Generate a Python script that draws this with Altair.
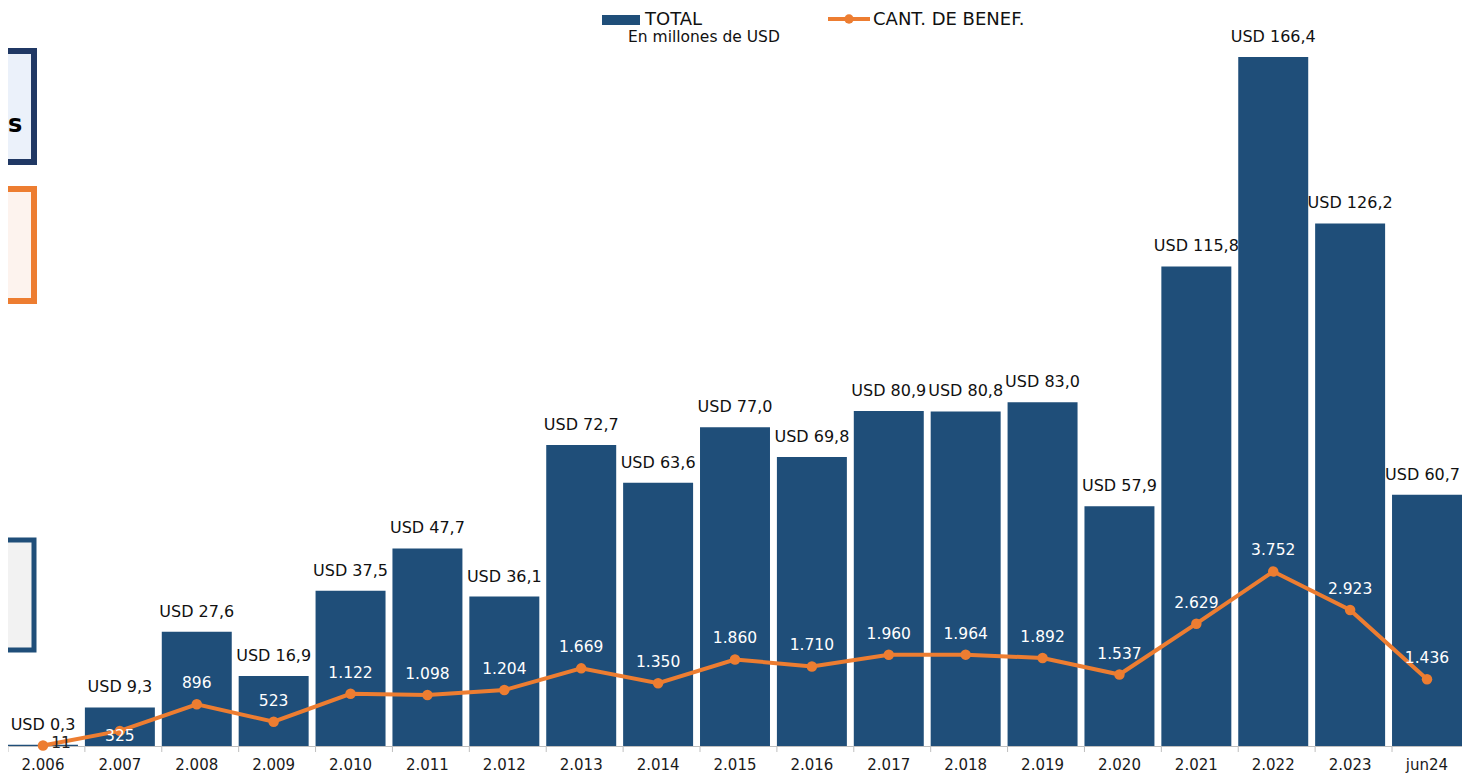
import altair as alt
import pandas as pd

years = ["2.006", "2.007", "2.008", "2.009", "2.010", "2.011", "2.012", "2.013", "2.014",
         "2.015", "2.016", "2.017", "2.018", "2.019", "2.020", "2.021", "2.022", "2.023", "jun24"]
total = [0.3, 9.3, 27.6, 16.9, 37.5, 47.7, 36.1, 72.7, 63.6, 77.0, 69.8, 80.9, 80.8, 83.0,
         57.9, 115.8, 166.4, 126.2, 60.7]
benef = [11, 325, 896, 523, 1122, 1098, 1204, 1669, 1350, 1860, 1710, 1960, 1964, 1892,
         1537, 2629, 3752, 2923, 1436]

df = pd.DataFrame({
    "cat": years,
    "total": total,
    "benef": benef,
    "tlabel": ["USD " + f"{v:.1f}".replace(".", ",") for v in total],
    "blabel": [f"{v:,}".replace(",", ".") for v in benef],
})

FONT = "DejaVu Sans"
BLUE = "#1F4E79"
ORANGE = "#ED7D31"
H = 735

xenc = alt.X("cat:N", sort=years, title=None,
             scale=alt.Scale(paddingInner=0.09, paddingOuter=0.0),
             axis=alt.Axis(labelAngle=0, ticks=False, domainColor="#BFBFBF",
                           labelFont=FONT, labelFontSize=15, labelColor="#1a1a1a",
                           labelPadding=11))

ybar = alt.Y("total:Q", scale=alt.Scale(domain=[0, 177.5]), axis=None)
yline = alt.Y("benef:Q", scale=alt.Scale(domain=[0, 15800]), axis=None)

base = alt.Chart(df)

bars = base.mark_bar(color=BLUE).encode(x=xenc, y=ybar)
bar_text = base.transform_filter("datum.cat != 'jun24'").mark_text(
    font=FONT, fontSize=16, color="#111111", baseline="middle", dy=-20).encode(
    x=xenc, y=ybar, text="tlabel:N")
bar_text_last = base.transform_filter("datum.cat == 'jun24'").mark_text(
    font=FONT, fontSize=16, color="#111111", baseline="middle", align="right", dx=33, dy=-20).encode(
    x=xenc, y=ybar, text="tlabel:N")

ticks = base.mark_rule(color="#BFBFBF", strokeWidth=1).encode(
    x=alt.X("cat:N", sort=years, bandPosition=0),
    y=alt.value(H), y2=alt.value(H + 6))

line = base.mark_line(color=ORANGE, strokeWidth=4).encode(x=xenc, y=yline)
pts = base.mark_point(color=ORANGE, filled=True, size=110, opacity=1).encode(x=xenc, y=yline)
btext_main = base.transform_filter("datum.benef >= 500").mark_text(
    font=FONT, fontSize=15.5, color="white", baseline="middle", dy=-21).encode(
    x=xenc, y=yline, text="blabel:N")
btext_325 = base.transform_filter("datum.benef >= 100 && datum.benef < 500").mark_text(
    font=FONT, fontSize=15.5, color="white", baseline="middle", dy=5).encode(
    x=xenc, y=yline, text="blabel:N")
btext_11 = base.transform_filter("datum.benef < 100").mark_text(
    font=FONT, fontSize=15.5, color="#222222", baseline="middle", dx=18, dy=-2).encode(
    x=xenc, y=yline, text="blabel:N")

one = pd.DataFrame({"a": [0]})
dec = alt.Chart(one)

box1 = dec.mark_rect(fill="#EBF1FA", stroke="#203864", strokeWidth=6).encode(
    x=alt.value(-30), x2=alt.value(26), y=alt.value(40), y2=alt.value(151))
box1_t = dec.mark_text(text="s", font=FONT, fontSize=24, fontWeight="bold", color="black",
                       align="left", baseline="middle").encode(x=alt.value(0), y=alt.value(114))
box2 = dec.mark_rect(fill="#FDF3EE", stroke=ORANGE, strokeWidth=6).encode(
    x=alt.value(-30), x2=alt.value(26), y=alt.value(178), y2=alt.value(290))
box3 = dec.mark_rect(fill="#F2F2F2", stroke=BLUE, strokeWidth=5).encode(
    x=alt.value(-30), x2=alt.value(26), y=alt.value(529), y2=alt.value(639))

leg_sw = dec.mark_rect(color=BLUE).encode(
    x=alt.value(594), x2=alt.value(632), y=alt.value(4), y2=alt.value(14))
leg_t1 = dec.mark_text(text="TOTAL", font=FONT, fontSize=18, color="#111111",
                       align="left", baseline="alphabetic").encode(x=alt.value(637), y=alt.value(14))
leg_t2 = dec.mark_text(text="En millones de USD", font=FONT, fontSize=15.5, color="#111111",
                       align="left", baseline="alphabetic").encode(x=alt.value(620), y=alt.value(31))
leg_ln = dec.mark_rule(color=ORANGE, strokeWidth=4).encode(
    x=alt.value(820), x2=alt.value(862), y=alt.value(8))
leg_pt = dec.mark_point(color=ORANGE, filled=True, size=90, opacity=1).encode(
    x=alt.value(841), y=alt.value(8))
leg_t3 = dec.mark_text(text="CANT. DE BENEF.", font=FONT, fontSize=18, color="#111111",
                       align="left", baseline="alphabetic").encode(x=alt.value(865), y=alt.value(14))

chart = alt.layer(
    box1, box1_t, box2, box3,
    bars, bar_text, bar_text_last, ticks, line, pts, btext_main, btext_325, btext_11,
    leg_sw, leg_t1, leg_t2, leg_ln, leg_pt, leg_t3,
).resolve_scale(y="independent").properties(
    width=1454, height=H,
    autosize=alt.AutoSizeParams(type="none"),
    padding={"left": 0, "top": 3, "right": 0, "bottom": 28},
    background="white",
).configure_view(stroke=None)

chart.save("out.html", embed_options={"renderer": "svg", "actions": False})
